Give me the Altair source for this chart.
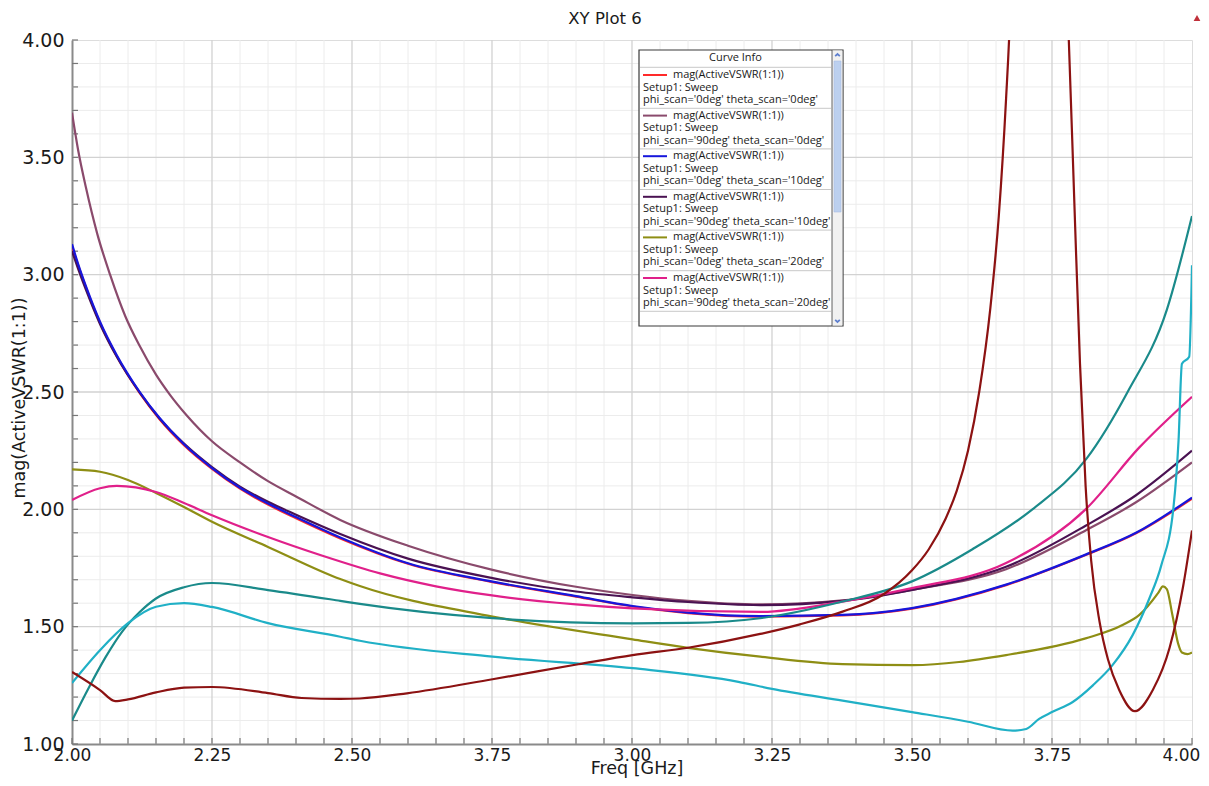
import altair as alt
import pandas as pd

W, H = 1120, 704

# ---------------- data ----------------
F_RED = [2.000, 2.011, 2.025, 2.05, 2.08, 2.121, 2.156, 2.20, 2.25, 2.30, 2.35, 2.40, 2.479, 2.60, 2.751, 2.90, 3.001, 3.10, 3.229, 3.376, 3.50, 3.668, 3.81, 3.90, 4.00]
V_RED = [3.12, 3.04, 2.945, 2.795, 2.652, 2.495, 2.385, 2.273, 2.172, 2.088, 2.02, 1.962, 1.876, 1.768, 1.690, 1.628, 1.586, 1.558, 1.543, 1.548, 1.577, 1.677, 1.805, 1.898, 2.045]

F_MAUVE = [2.000, 2.011, 2.025, 2.045, 2.068, 2.095, 2.12, 2.15, 2.175, 2.205, 2.25, 2.30, 2.35, 2.40, 2.479, 2.60, 2.751, 2.90, 3.001, 3.10, 3.229, 3.376, 3.50, 3.668, 3.81, 3.90, 4.00]
V_MAUVE = [3.69, 3.53, 3.37, 3.175, 3.00, 2.824, 2.70, 2.574, 2.488, 2.40, 2.29, 2.20, 2.12, 2.055, 1.955, 1.845, 1.742, 1.67, 1.635, 1.61, 1.595, 1.612, 1.657, 1.745, 1.91, 2.03, 2.20]

F_BLUE = [2.000, 2.011, 2.025, 2.05, 2.08, 2.121, 2.156, 2.20, 2.25, 2.30, 2.35, 2.40, 2.479, 2.60, 2.751, 2.90, 3.001, 3.10, 3.229, 3.376, 3.50, 3.668, 3.81, 3.90, 4.00]
V_BLUE = [3.13, 3.045, 2.95, 2.80, 2.657, 2.50, 2.39, 2.277, 2.176, 2.092, 2.025, 1.967, 1.88, 1.77, 1.692, 1.63, 1.588, 1.56, 1.545, 1.55, 1.579, 1.679, 1.807, 1.90, 2.05]

F_PURPLE = [2.000, 2.011, 2.025, 2.05, 2.08, 2.121, 2.156, 2.20, 2.25, 2.30, 2.35, 2.40, 2.479, 2.60, 2.751, 2.90, 3.001, 3.10, 3.229, 3.376, 3.50, 3.668, 3.81, 3.90, 4.00]
V_PURPLE = [3.10, 3.025, 2.935, 2.79, 2.65, 2.497, 2.388, 2.28, 2.18, 2.097, 2.032, 1.977, 1.895, 1.79, 1.707, 1.65, 1.625, 1.605, 1.592, 1.61, 1.657, 1.755, 1.93, 2.06, 2.25]

F_OLIVE = [2.000, 2.05, 2.10, 2.15, 2.20, 2.25, 2.35, 2.479, 2.514, 2.751, 3.001, 3.10, 3.229, 3.376, 3.50, 3.668, 3.81, 3.876, 3.906, 3.94, 3.948, 3.955, 3.965, 3.975, 3.982, 3.992, 4.00]
V_OLIVE = [2.17, 2.16, 2.125, 2.07, 2.01, 1.947, 1.84, 1.703, 1.673, 1.543, 1.446, 1.41, 1.372, 1.34, 1.336, 1.379, 1.45, 1.507, 1.55, 1.645, 1.672, 1.66, 1.55, 1.43, 1.39, 1.383, 1.39]

F_MAGENTA = [2.000, 2.05, 2.08, 2.15, 2.20, 2.25, 2.35, 2.45, 2.55, 2.65, 2.75, 2.90, 3.001, 3.229, 3.376, 3.50, 3.668, 3.81, 3.906, 4.00]
V_MAGENTA = [2.04, 2.09, 2.10, 2.074, 2.027, 1.975, 1.882, 1.80, 1.727, 1.672, 1.633, 1.595, 1.578, 1.563, 1.607, 1.664, 1.771, 2.00, 2.264, 2.48]

F_TEAL = [2.000, 2.03, 2.06, 2.09, 2.12, 2.15, 2.20, 2.25, 2.35, 2.479, 2.514, 2.751, 3.001, 3.10, 3.229, 3.376, 3.50, 3.608, 3.715, 3.812, 3.885, 3.955, 4.00]
V_TEAL = [1.10, 1.24, 1.37, 1.48, 1.56, 1.62, 1.668, 1.686, 1.656, 1.61, 1.597, 1.536, 1.514, 1.516, 1.536, 1.607, 1.693, 1.83, 2.00, 2.217, 2.50, 2.85, 3.25]

F_CYAN = [2.000, 2.05, 2.10, 2.15, 2.20, 2.25, 2.35, 2.479, 2.514, 2.751, 3.001, 3.19, 3.25, 3.376, 3.50, 3.60, 3.68, 3.704, 3.727, 3.75, 3.787, 3.823, 3.858, 3.894, 3.924, 3.945, 3.967, 3.976, 3.982, 3.995, 4.00]
V_CYAN = [1.26, 1.40, 1.515, 1.585, 1.60, 1.584, 1.515, 1.457, 1.44, 1.372, 1.323, 1.265, 1.235, 1.185, 1.136, 1.095, 1.057, 1.064, 1.107, 1.136, 1.179, 1.25, 1.336, 1.464, 1.621, 1.76, 2.01, 2.295, 2.62, 2.65, 3.04]

F_DARKRED = [2.000, 2.05, 2.077, 2.10, 2.15, 2.20, 2.25, 2.35, 2.41, 2.479, 2.514, 2.598, 2.751, 2.904, 3.001, 3.10, 3.229, 3.30, 3.376, 3.448, 3.50, 3.53, 3.56, 3.58, 3.60, 3.62, 3.64, 3.655, 3.668, 3.675, 3.685, 3.72, 3.76, 3.775, 3.78, 3.79, 3.80, 3.81, 3.82, 3.835, 3.85, 3.87, 3.898, 3.93, 3.96, 3.984, 4.00]
V_DARKRED = [1.307, 1.23, 1.183, 1.19, 1.22, 1.24, 1.243, 1.217, 1.196, 1.192, 1.194, 1.216, 1.276, 1.34, 1.379, 1.41, 1.469, 1.51, 1.564, 1.636, 1.74, 1.83, 1.96, 2.08, 2.25, 2.50, 2.86, 3.25, 3.75, 4.10, 5.0, 7.0, 5.5, 4.30, 4.00, 3.30, 2.62, 2.10, 1.78, 1.52, 1.36, 1.23, 1.14, 1.23, 1.41, 1.67, 1.91]

PLOT_TITLE = "XY Plot 6"
X_TITLE = "Freq [GHz]"
Y_TITLE = "mag(ActiveVSWR(1:1))"
LEGEND_TITLE = "Curve Info"
EXPR = "mag(ActiveVSWR(1:1))"
SETUP = "Setup1: Sweep"

# (label, colour, freqs, values) in drawing order
SERIES = [
    ("phi_scan='0deg' theta_scan='0deg'", "#ff2a2a", F_RED, V_RED),
    ("phi_scan='90deg' theta_scan='0deg'", "#8a4a6c", F_MAUVE, V_MAUVE),
    ("phi_scan='90deg' theta_scan='10deg'", "#4a1252", F_PURPLE, V_PURPLE),
    ("phi_scan='0deg' theta_scan='10deg'", "#1616dc", F_BLUE, V_BLUE),
    ("phi_scan='0deg' theta_scan='20deg'", "#8e8e14", F_OLIVE, V_OLIVE),
    ("phi_scan='90deg' theta_scan='20deg'", "#e0208a", F_MAGENTA, V_MAGENTA),
    ("phi_scan='0deg' theta_scan='30deg'", "#1a8a8a", F_TEAL, V_TEAL),
    ("phi_scan='90deg' theta_scan='30deg'", "#20b0c6", F_CYAN, V_CYAN),
    ("phi_scan='0deg' theta_scan='40deg'", "#8c1212", F_DARKRED, V_DARKRED),
]
# order in which the entries are listed in the (scrolling) curve-info box
LEGEND_ORDER = [0, 1, 3, 2, 4, 5]

X_MAJOR = [2.0, 2.25, 2.5, 2.75, 3.0, 3.25, 3.5, 3.75, 4.0]
Y_MAJOR = [1.0, 1.5, 2.0, 2.5, 3.0, 3.5, 4.0]
X_MINOR = [round(2.0 + 0.05 * i, 2) for i in range(41)]
Y_MINOR = [round(1.0 + 0.1 * i, 1) for i in range(31)]

FONT = "DejaVu Sans"

# ---------------- scales / axes ----------------
xs = alt.Scale(domain=[2.0, 4.0], nice=False, zero=False)
ys = alt.Scale(domain=[1.0, 4.0], nice=False, zero=False)

xaxis = alt.Axis(values=X_MAJOR,
                 labelExpr="datum.value == 2.75 ? '3.75' : format(datum.value, '.2f')",
                 title="", grid=False, ticks=False,
                 labelFont=FONT, labelFontSize=17, labelColor="#1a1a1a",
                 labelPadding=3, labelFlush=False,
                 labelOffset=alt.condition("datum.value >= 4", alt.value(-11), alt.value(0)),
                 domainColor="#8a8a8a", domainWidth=2)
yaxis = alt.Axis(values=Y_MAJOR, format=".2f",
                 title="", grid=False, ticks=False,
                 labelFont=FONT, labelFontSize=19, labelColor="#1a1a1a",
                 labelPadding=8, labelFlush=False,
                 domainColor="#8a8a8a", domainWidth=2)


def X(field):
    return alt.X(field, type="quantitative", scale=xs, axis=xaxis)


def Y(field):
    return alt.Y(field, type="quantitative", scale=ys, axis=yaxis)


layers = []

# grid
xminor = pd.DataFrame({"v": [v for v in X_MINOR if v not in X_MAJOR]})
yminor = pd.DataFrame({"v": [v for v in Y_MINOR if v not in Y_MAJOR]})
xmajor = pd.DataFrame({"v": X_MAJOR[1:-1]})
ymajor = pd.DataFrame({"v": Y_MAJOR[1:-1]})
layers.append(alt.Chart(xminor).mark_rule(color="#ececec", strokeWidth=1).encode(x=X("v")))
layers.append(alt.Chart(yminor).mark_rule(color="#ececec", strokeWidth=1).encode(y=Y("v")))
layers.append(alt.Chart(xmajor).mark_rule(color="#d2d2d2", strokeWidth=1.3).encode(x=X("v")))
layers.append(alt.Chart(ymajor).mark_rule(color="#d2d2d2", strokeWidth=1.3).encode(y=Y("v")))

# inward ticks
xt = pd.DataFrame({"v": X_MINOR})
yt = pd.DataFrame({"v": Y_MINOR})
layers.append(alt.Chart(xt).mark_rule(color="#777777", strokeWidth=1.2).encode(
    x=X("v"), y=alt.value(H), y2=alt.value(H - 6)))
layers.append(alt.Chart(yt).mark_rule(color="#777777", strokeWidth=1.2).encode(
    y=Y("v"), x=alt.value(0), x2=alt.value(6)))

# curves
for name, col, fr, vals in SERIES:
    df = pd.DataFrame({"freq": fr, "vswr": vals, "curve": name})
    layers.append(
        alt.Chart(df).mark_line(color=col, strokeWidth=2.2, clip=True, interpolate="monotone")
        .encode(x=X("freq"), y=Y("vswr"), order="freq:Q")
    )

one = pd.DataFrame({"k": [0]})

# titles as text
layers.append(alt.Chart(one).mark_text(text=PLOT_TITLE, font=FONT, fontSize=16.5, color="#1a1a1a",
                                       baseline="middle", align="center").encode(
    x=alt.value(533), y=alt.value(-21)))
layers.append(alt.Chart(one).mark_text(text=X_TITLE, font=FONT, fontSize=17.5, color="#1a1a1a",
                                       baseline="middle", align="center").encode(
    x=alt.value(565), y=alt.value(729)))
layers.append(alt.Chart(one).mark_text(text=Y_TITLE, font=FONT, fontSize=17.5, color="#1a1a1a",
                                       baseline="middle", align="center", angle=270).encode(
    x=alt.value(-52), y=alt.value(358)))

# ---------------- curve-info box ----------------
BX0, BX1, BY0, BY1 = 567, 771, 10, 286
SB = 760
LF = 11
TF = "Open Sans"
layers.append(alt.Chart(one).mark_rect(fill="white", stroke="#3a3a3a", strokeWidth=1.2).encode(
    x=alt.value(BX0), x2=alt.value(BX1), y=alt.value(BY0), y2=alt.value(BY1)))
layers.append(alt.Chart(one).mark_rect(fill="#f1f1f1").encode(
    x=alt.value(SB), x2=alt.value(BX1 - 0.6), y=alt.value(BY0 + 0.6), y2=alt.value(BY1 - 0.6)))
layers.append(alt.Chart(one).mark_rect(fill="#bcd0ef", stroke="#a8bde3", strokeWidth=0.6).encode(
    x=alt.value(762), x2=alt.value(769), y=alt.value(21), y2=alt.value(172)))
layers.append(alt.Chart(one).mark_point(shape="M-1,0.5L0,-0.4L1,0.5", filled=False,
                                        stroke="#2050c0", strokeWidth=1.8, size=22).encode(
    x=alt.value(765.5), y=alt.value(15)))
layers.append(alt.Chart(one).mark_point(shape="M-1,-0.5L0,0.4L1,-0.5", filled=False,
                                        stroke="#2050c0", strokeWidth=1.8, size=22).encode(
    x=alt.value(765.5), y=alt.value(281)))
layers.append(alt.Chart(one).mark_rule(color="#3a3a3a", strokeWidth=0.8).encode(
    x=alt.value(SB), y=alt.value(BY0), y2=alt.value(BY1)))
layers.append(alt.Chart(one).mark_text(text=LEGEND_TITLE, font=TF, fontSize=LF,
                                       color="#1a1a1a", baseline="middle", align="center").encode(
    x=alt.value((BX0 + SB) / 2), y=alt.value(18)))
layers.append(alt.Chart(one).mark_rule(color="#c8c8c8", strokeWidth=1).encode(
    x=alt.value(BX0 + 1), x2=alt.value(SB - 1), y=alt.value(27.3)))

for slot, si in enumerate(LEGEND_ORDER):
    name, col = SERIES[si][0], SERIES[si][1]
    y0 = 35 + 40.6 * slot
    layers.append(alt.Chart(one).mark_rule(color=col, strokeWidth=2).encode(
        x=alt.value(571), x2=alt.value(595), y=alt.value(y0)))
    layers.append(alt.Chart(one).mark_text(text=EXPR, font=TF, fontSize=LF, color="#1a1a1a",
                                           baseline="middle", align="left").encode(
        x=alt.value(601), y=alt.value(y0)))
    layers.append(alt.Chart(one).mark_text(text=SETUP, font=TF, fontSize=LF, color="#1a1a1a",
                                           baseline="middle", align="left").encode(
        x=alt.value(571), y=alt.value(y0 + 12.5)))
    layers.append(alt.Chart(one).mark_text(text=name, font=TF, fontSize=LF, color="#1a1a1a",
                                           baseline="middle", align="left").encode(
        x=alt.value(571), y=alt.value(y0 + 25)))
    layers.append(alt.Chart(one).mark_rule(color="#c8c8c8", strokeWidth=1).encode(
        x=alt.value(BX0 + 1), x2=alt.value(SB - 1), y=alt.value(y0 + 33.3)))

# small red marker at the top right
layers.append(alt.Chart(one).mark_point(shape="triangle-up", filled=True, color="#c0303a",
                                        size=45, opacity=1).encode(
    x=alt.value(1125), y=alt.value(-22)))

chart = alt.layer(*layers).properties(
    width=W, height=H,
    padding={"left": 64, "top": 32, "right": 9, "bottom": 34},
    autosize=alt.AutoSizeParams(type="none"),
).configure_view(stroke="#8a8a8a", strokeWidth=2).configure(background="white")

chart.save("out.html", embed_options={"renderer": "svg", "actions": False})
